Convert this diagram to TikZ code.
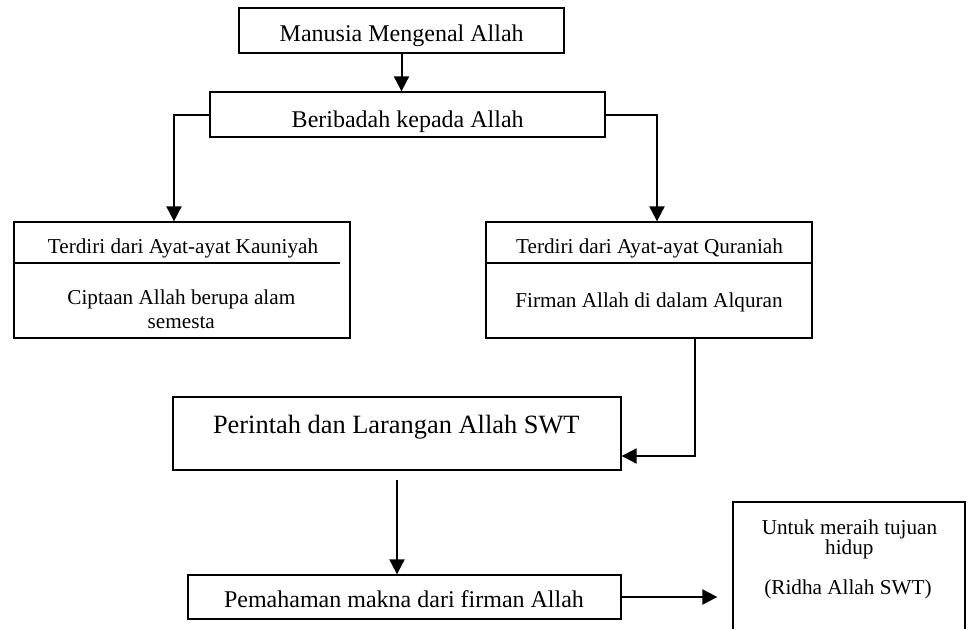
\documentclass[tikz,border=0pt]{standalone}
\usepackage{fontspec}
\setmainfont{Liberation Serif}
\usetikzlibrary{arrows.meta}

\begin{document}
\begin{tikzpicture}[x=0.5pt, y=-0.5pt,
    box/.style={draw, line width=0.65pt, inner sep=0pt},
    txt/.style={anchor=base, inner sep=0pt},
    arr/.style={line width=1pt, -{Triangle[length=7.5pt, width=7.5pt]}}]

    % Font sizes
    \def\fmid{\fontsize{12}{14}\selectfont}
    \def\fsml{\fontsize{10.6}{12.7}\selectfont}
    \def\fbig{\fontsize{13.2}{15.8}\selectfont}

    % Page
    \useasboundingbox (0,0) rectangle (971,628);
    \clip (0,0) rectangle (971,628);

    % Boxes
    \node[box, minimum width=162.5pt, minimum height=22.5pt] (man) at (401.5,30.5) {};
    \node[box, minimum width=197.5pt, minimum height=22.5pt] (ibd) at (407.5,114.5) {};
    \node[box, minimum width=168pt,   minimum height=58pt]   (kau) at (182,280) {};
    \node[box, minimum width=163pt,   minimum height=58pt]   (qur) at (649,280) {};
    \node[box, minimum width=224pt,   minimum height=36.5pt] (per) at (397,433.5) {};
    \node[box, minimum width=216.5pt, minimum height=22pt]   (pem) at (404.5,597) {};
    \node[box, minimum width=116pt,   minimum height=74pt]   (rid) at (849,576) {};

    % Dividers
    \draw[line width=0.65pt] ([yshift=8.5pt]kau.west) -- ([yshift=8.5pt, xshift=-5.5pt]kau.east);
    \draw[line width=0.65pt] ([yshift=8.5pt]qur.west) -- ([yshift=8.5pt]qur.east);

    % Texts
    \node[txt] (mant)  at (401.7,41)  {\fmid Manusia Mengenal Allah};
    \node[txt] (ibdt)  at (407.7,127) {\fmid Beribadah kepada Allah};
    \node[txt] (kaut)  at (183,253)   {\fsml Terdiri dari Ayat-ayat Kauniyah};
    \node[txt] (kaub1) at (181.3,304) {\fsml Ciptaan Allah berupa alam};
    \node[txt] (kaub2) at (181.3,328) {\fsml semesta};
    \node[txt] (qurt)  at (649.5,253) {\fsml Terdiri dari Ayat-ayat Quraniah};
    \node[txt] (qurb)  at (649,307)   {\fsml Firman Allah di dalam Alquran};
    \node[txt] (pert)  at (396.3,433.3) {\fbig Perintah dan Larangan Allah SWT};
    \node[txt] (pemt)  at (404,607.7) {\fmid Pemahaman makna dari firman Allah};
    \node[txt] (rid1)  at (849.5,534) {\fsml Untuk meraih tujuan};
    \node[txt] (rid2)  at (849.3,554) {\fsml hidup};
    \node[txt] (rid3)  at (848,594)   {\fsml (Ridha Allah SWT)};

    % Connectors
    \draw[arr] (man.south) -- (man.south |- ibd.north);
    \draw[arr] (ibd.west) -| ([xshift=-4pt]kau.north);
    \draw[arr] (ibd.east) -| ([xshift=4pt]qur.north);
    \draw[arr] ([xshift=23pt]qur.south) |- ([yshift=-11.25pt]per.east);
    \draw[arr, shorten <=4.5pt] (per.south) -- (per.south |- pem.north);
    \draw[arr, shorten >=7.5pt] (pem.east) -- (pem.east -| rid.west);

\end{tikzpicture}
\end{document}
